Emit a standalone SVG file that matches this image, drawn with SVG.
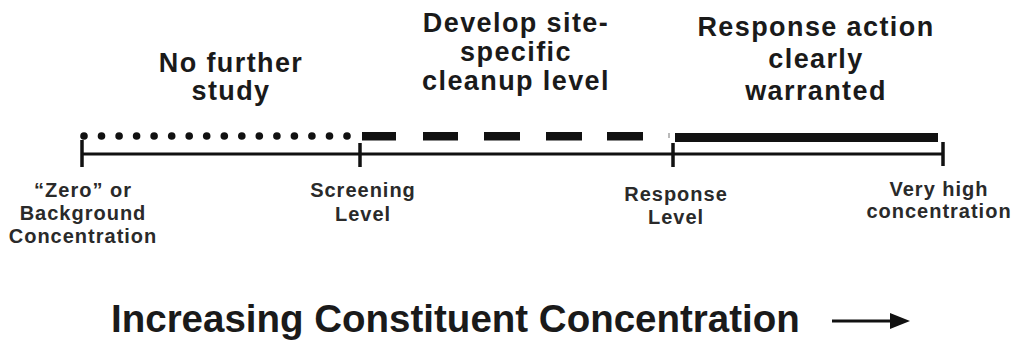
<svg xmlns="http://www.w3.org/2000/svg" width="1014" height="342" viewBox="0 0 1014 342">
  <style>
    .top { font-family: "Liberation Sans", Arial, sans-serif; font-weight: bold; font-size: 27px; letter-spacing: 1.4px; fill: #1a1a1a; text-anchor: middle; }
    .lbl { font-family: "Liberation Sans", Arial, sans-serif; font-weight: bold; font-size: 20px; letter-spacing: 1px; fill: #2a2a2a; text-anchor: middle; }
    .title { font-family: "Liberation Sans", Arial, sans-serif; font-weight: bold; font-size: 38.5px; fill: #1a1a1a; }
    .axis { stroke: #111; stroke-width: 3; fill: none; }
    .tick { stroke: #111; stroke-width: 3.5; }
    .dot { fill: #111; }
    .dash { fill: #111; }
  </style>
  <rect width="1014" height="342" fill="#fff"/>

  <g id="zone-no-further-study">
    <text class="top" x="231" y="72">No further</text>
    <text class="top" x="231" y="100">study</text>
    <g id="dots">
      <circle class="dot" cx="84" cy="136" r="3.8"/>
      <circle class="dot" cx="101.5" cy="136" r="3.8"/>
      <circle class="dot" cx="119.1" cy="136" r="3.8"/>
      <circle class="dot" cx="136.6" cy="136" r="3.8"/>
      <circle class="dot" cx="154.1" cy="136" r="3.8"/>
      <circle class="dot" cx="171.7" cy="136" r="3.8"/>
      <circle class="dot" cx="189.2" cy="136" r="3.8"/>
      <circle class="dot" cx="206.7" cy="136" r="3.8"/>
      <circle class="dot" cx="224.3" cy="136" r="3.8"/>
      <circle class="dot" cx="241.8" cy="136" r="3.8"/>
      <circle class="dot" cx="259.3" cy="136" r="3.8"/>
      <circle class="dot" cx="276.9" cy="136" r="3.8"/>
      <circle class="dot" cx="294.4" cy="136" r="3.8"/>
      <circle class="dot" cx="311.9" cy="136" r="3.8"/>
      <circle class="dot" cx="329.5" cy="136" r="3.8"/>
      <circle class="dot" cx="347" cy="136" r="3.8"/>
    </g>
  </g>

  <g id="zone-site-specific">
    <text class="top" x="516" y="32">Develop site-</text>
    <text class="top" x="516" y="61">specific</text>
    <text class="top" x="516" y="90">cleanup level</text>
    <g id="dashes">
      <rect class="dash" x="362" y="132" width="34" height="8.5"/>
      <rect class="dash" x="423" y="132" width="35" height="8.5"/>
      <rect class="dash" x="484" y="132" width="36" height="8.5"/>
      <rect class="dash" x="546" y="132" width="36" height="8.5"/>
      <rect class="dash" x="607" y="132" width="36" height="8.5"/>
      <rect x="668.5" y="133" width="1" height="5" fill="#777"/>
    </g>
  </g>

  <g id="zone-response-action">
    <text class="top" x="816" y="36">Response action</text>
    <text class="top" x="816" y="68">clearly</text>
    <text class="top" x="816" y="100">warranted</text>
    <rect id="solid-bar" x="675" y="133" width="263" height="9" fill="#111"/>
  </g>

  <g id="connectors">
    <line class="axis" x1="82" y1="154" x2="943" y2="154"/>
    <line class="tick" x1="82" y1="140" x2="82" y2="167"/>
    <line class="tick" x1="360" y1="143" x2="360" y2="167"/>
    <line class="tick" x1="673" y1="143" x2="673" y2="167"/>
    <line class="tick" x1="943" y1="142" x2="943" y2="166"/>
    <line class="axis" x1="832" y1="321" x2="893" y2="321"/>
    <polygon points="890,313 910,321 890,329" fill="#111"/>
  </g>

  <g id="label-zero">
    <text class="lbl" x="83" y="197">“Zero” or</text>
    <text class="lbl" x="83" y="220">Background</text>
    <text class="lbl" x="83" y="243">Concentration</text>
  </g>
  <g id="label-screening">
    <text class="lbl" x="363" y="197">Screening</text>
    <text class="lbl" x="363" y="221">Level</text>
  </g>
  <g id="label-response">
    <text class="lbl" x="676" y="201">Response</text>
    <text class="lbl" x="676" y="224">Level</text>
  </g>
  <g id="label-very-high">
    <text class="lbl" x="939" y="196">Very high</text>
    <text class="lbl" x="939" y="218">concentration</text>
  </g>

  <g id="title">
    <text class="title" x="111" y="332">Increasing Constituent Concentration</text>
  </g>
</svg>
